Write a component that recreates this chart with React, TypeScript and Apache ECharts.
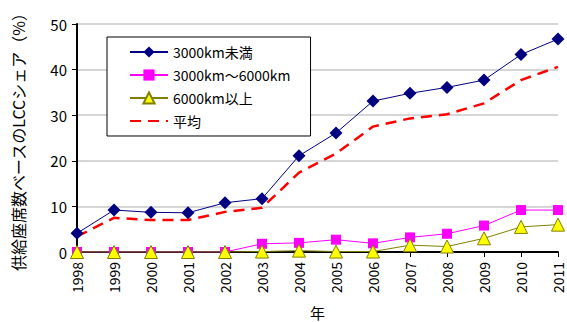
import React, { useEffect, useRef } from "react";
import * as echarts from "echarts";

const years = ["1998", "1999", "2000", "2001", "2002", "2003", "2004", "2005", "2006", "2007", "2008", "2009", "2010", "2011"];
const under3000 = [4.1, 9.2, 8.7, 8.6, 10.8, 11.7, 21.1, 26.1, 33.1, 34.8, 36.1, 37.7, 43.3, 46.7];
const mid3000to6000 = [0, 0, 0, 0, 0, 1.8, 2.0, 2.7, 1.9, 3.2, 4.0, 5.8, 9.2, 9.2];
const over6000 = [0, 0, 0, 0, 0, 0.1, 0.3, 0.1, 0.1, 1.5, 1.2, 3.0, 5.5, 6.0];
const average = [3.4, 7.5, 7.0, 7.0, 8.8, 9.7, 17.4, 21.6, 27.5, 29.3, 30.2, 32.6, 37.7, 40.6];

const FONT = "'Noto Sans CJK JP', 'Noto Sans', sans-serif";

export default function App() {
  const ref = useRef<HTMLDivElement>(null);

  useEffect(() => {
    if (!ref.current) return;
    const chart = echarts.init(ref.current, null, { renderer: "svg" });
    chart.setOption({
      animation: false,
      backgroundColor: "#ffffff",
      textStyle: { fontFamily: FONT, color: "#000" },
      grid: { left: 77, right: 9, top: 24, bottom: 70, containLabel: false, outerBoundsMode: "none" },
      legend: {
        orient: "vertical",
        left: 107,
        top: 37,
        padding: [8, 20, 8, 22],
        itemWidth: 38,
        itemHeight: 14,
        itemGap: 9,
        borderColor: "#000",
        borderWidth: 1,
        backgroundColor: "#fff",
        borderRadius: 0,
        textStyle: { fontFamily: FONT, fontSize: 14, color: "#000" },
        data: [
          "3000km未満",
          "3000km～6000km",
          "6000km以上",
          { name: "平均", itemStyle: { opacity: 0 } },
        ],
      },
      xAxis: {
        type: "category",
        data: years,
        boundaryGap: false,
        name: "年",
        nameLocation: "middle",
        nameGap: 53,
        nameTextStyle: { fontFamily: FONT, fontSize: 15, color: "#000" },
        axisLine: { lineStyle: { color: "#000", width: 2 } },
        axisTick: { show: true, alignWithLabel: true, length: 5, lineStyle: { color: "#000" } },
        axisLabel: { rotate: 90, fontFamily: FONT, fontSize: 14, color: "#000", margin: 10 },
        splitLine: { show: false },
      },
      yAxis: {
        type: "value",
        min: 0,
        max: 50,
        interval: 10,
        name: "供給座席数ベースのLCCシェア（%）",
        nameLocation: "middle",
        nameRotate: 90,
        nameGap: 51,
        nameTextStyle: { fontFamily: FONT, fontSize: 16, color: "#000" },
        axisLine: { show: true, lineStyle: { color: "#000", width: 2 } },
        axisTick: { show: true, length: 5, lineStyle: { color: "#000" } },
        axisLabel: { fontFamily: FONT, fontSize: 15, color: "#000", margin: 10 },
        splitLine: { show: true, lineStyle: { color: "#c8c8c8", width: 1.5 } },
      },
      series: [
        {
          name: "3000km未満",
          type: "line",
          data: under3000,
          symbol: "diamond",
          symbolSize: 13,
          itemStyle: { color: "#000080" },
          lineStyle: { color: "#000080", width: 1 },
          z: 3,
        },
        {
          name: "3000km～6000km",
          type: "line",
          data: mid3000to6000,
          symbol: "rect",
          symbolSize: 10,
          itemStyle: { color: "#ff00ff" },
          lineStyle: { color: "#ff00ff", width: 1 },
          z: 4,
        },
        {
          name: "6000km以上",
          type: "line",
          data: over6000,
          symbol: "triangle",
          symbolSize: 13,
          itemStyle: { color: "#ffff00", borderColor: "#808000", borderWidth: 1 },
          lineStyle: { color: "#808000", width: 1 },
          z: 5,
        },
        {
          name: "平均",
          type: "line",
          data: average,
          symbol: "none",
          itemStyle: { color: "#ff0000" },
          lineStyle: { color: "#ff0000", width: 2.5, type: [11, 7] },
          z: 2,
        },
      ],
    });
    return () => chart.dispose();
  }, []);

  return (
    <div
      ref={ref}
      style={{ position: "fixed", left: 0, top: 0, width: 567, height: 322 }}
    />
  );
}
